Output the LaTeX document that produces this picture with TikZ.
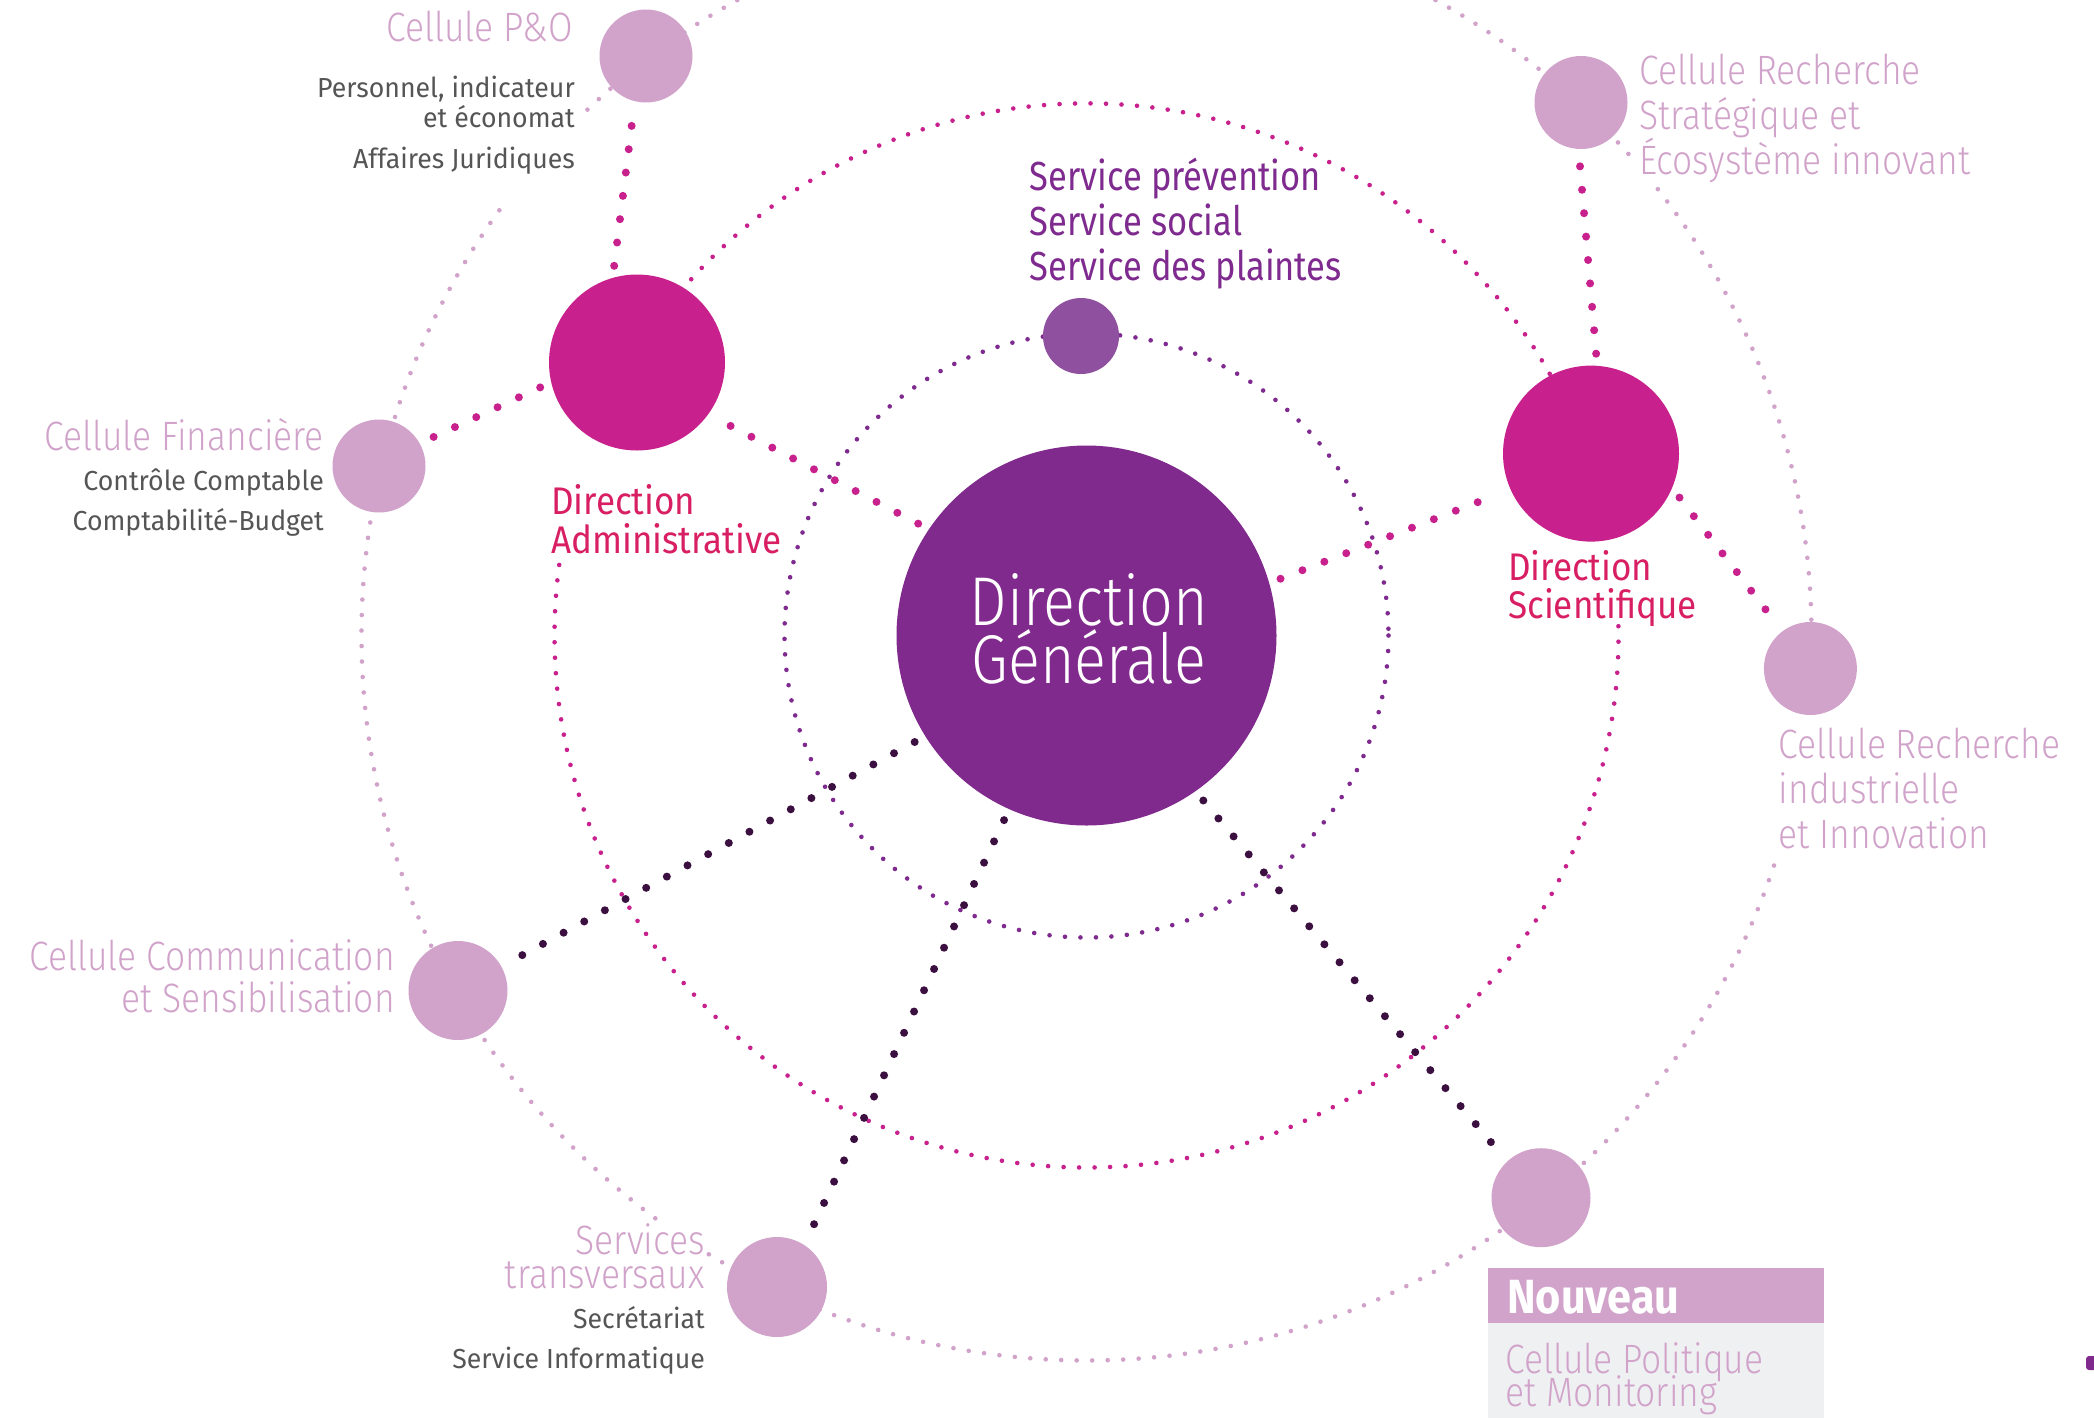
\documentclass[tikz,border=0pt]{standalone}
\usepackage{fontspec}
\setmainfont{Fira Sans}
\newfontfamily\flight{Fira Sans Light}[FakeStretch=0.865]
\newfontfamily\fdg{Fira Sans Light}[FakeStretch=0.86]
\newfontfamily\freg{Fira Sans}[FakeStretch=0.91]
\newfontfamily\fsvc{Fira Sans}[FakeStretch=0.85]
\newfontfamily\fgray{Fira Sans}[FakeStretch=0.97]
\newfontfamily\fbold{Fira Sans}[FakeStretch=0.9]
\definecolor{lpink}{HTML}{D1A3CA}
\definecolor{dmag}{HTML}{C8208C}
\definecolor{dgpurple}{HTML}{812A8D}
\definecolor{svcpurple}{HTML}{8E509F}
\definecolor{ringpurple}{HTML}{7F2A8E}
\definecolor{darkdot}{HTML}{3B0F40}
\definecolor{crimson}{HTML}{D81F63}
\definecolor{txtpurple}{HTML}{7E2A8F}
\definecolor{graytxt}{HTML}{555555}
\definecolor{boxgray}{HTML}{EFF0F2}
\newcommand\LblR[2]{\vtop{\baselineskip=#1pt\lineskiplimit=-100pt\halign{\hfil##\cr#2\crcr}}}
\newcommand\LblL[2]{\vtop{\baselineskip=#1pt\lineskiplimit=-100pt\halign{##\hfil\cr#2\crcr}}}
\newcommand\LblC[2]{\vtop{\baselineskip=#1pt\lineskiplimit=-100pt\halign{\hfil##\hfil\cr#2\crcr}}}
\tikzset{
  orbit/.style={line width=4.6pt, line cap=round, dash pattern=on 0pt off 15.5pt},
  link/.style={line width=8pt, line cap=round, dash pattern=on 0pt off 23.5pt, shorten <=12pt, shorten >=12pt},
  bubble/.style={circle, inner sep=0pt, draw=none},
  pinklbl/.style={inner sep=0pt, text=lpink, font=\flight\fontsize{41}{45}\selectfont},
  graylbl/.style={inner sep=0pt, text=graytxt, font=\fgray\fontsize{27.5}{30}\selectfont},
  dirlbl/.style={inner sep=0pt, text=crimson, font=\freg\fontsize{38.5}{39}\selectfont},
}
\begin{document}
\begin{tikzpicture}[x=1pt,y=-1pt]
\fill[white] (0,0) rectangle (2094,1417);
\useasboundingbox (0,0) rectangle (2094,1417);
\coordinate (c) at (1086.5,635.5);
% orbits
\draw[orbit, ringpurple] (c) circle[radius=302];
\draw[orbit, dmag] (c) ++(-1:532) arc[start angle=-1, end angle=189, radius=532];
\draw[orbit, dmag] (c) ++(202:532) arc[start angle=202, end angle=350, radius=532];
\draw[orbit, lpink] (c) ++(-38:725) arc[start angle=-38, end angle=6, radius=725];
\draw[orbit, lpink] (c) ++(18.5:725) arc[start angle=18.5, end angle=121.5, radius=725];
\draw[orbit, lpink] (c) ++(126.5:725) arc[start angle=126.5, end angle=216.5, radius=725];
\draw[orbit, lpink] (c) ++(226.5:725) arc[start angle=226.5, end angle=318.5, radius=725];
% nodes
\node[bubble, fill=dgpurple, minimum size=380pt] (dg) at (1086.5,635.5) {};
\node[bubble, fill=dmag, minimum size=176pt] (da) at (637,362.5) {};
\node[bubble, fill=dmag, minimum size=176pt] (ds) at (1591,453.6) {};
\node[bubble, fill=svcpurple, minimum size=76pt] (svc) at (1081,336) {};
\node[bubble, fill=lpink, minimum size=93pt] (pno) at (646,56) {};
\node[bubble, fill=lpink, minimum size=93pt] (fin) at (379,466) {};
\node[bubble, fill=lpink, minimum size=99pt] (comm) at (458,990.5) {};
\node[bubble, fill=lpink, minimum size=100pt] (st) at (777,1287) {};
\node[bubble, fill=lpink, minimum size=99pt] (poli) at (1541,1197.7) {};
\node[bubble, fill=lpink, minimum size=93pt] (rs) at (1581,102.5) {};
\node[bubble, fill=lpink, minimum size=93pt] (ri) at (1810.4,668.5) {};
% connectors
\draw[link, dmag] (dg.146.4) -- (da.-36.8);
\draw[link, dmag] (da.106.2) -- (pno.-104.5);
\draw[link, dmag] (da.-167.3) -- (fin.29.3);
\draw[link, dmag] (dg.16) -- (ds.-156.8);
\draw[link, dmag] (ds.86.4) -- (rs.-93);
\draw[link, dmag] (ds.-23.6) -- (ri.127);
\draw[link, darkdot] (dg.-148.1) -- (comm.29.2);
\draw[link, darkdot] (dg.-114) -- (st.57.9);
\draw[link, darkdot] (dg.-55.2) -- (poli.133.7);
% labels
\node[inner sep=0pt, anchor=base, text=white, font=\fdg\fontsize{69}{58}\selectfont] (dgtxt) at (1089,625.5) {\LblC{58}{Direction\cr Générale\cr}};
\node[pinklbl, anchor=base east] (pnol) at (573,41) {Cellule P\&O};
\node[graylbl, anchor=base east] (pnos) at (575,97) {\LblR{30.6}{Personnel, indicateur\cr et économat\cr\noalign{\vskip 10.4pt}Affaires Juridiques\cr}};
\node[pinklbl, anchor=base east] (finl) at (324,450.6) {Cellule Financière};
\node[graylbl, anchor=base east] (fins) at (324,490) {\LblR{40}{Contrôle Comptable\cr Comptabilité-Budget\cr}};
\node[dirlbl, anchor=base west] (dal) at (551,514) {\LblL{39}{Direction\cr Administrative\cr}};
\node[inner sep=0pt, anchor=base west, text=txtpurple, font=\fsvc\fontsize{40.6}{45}\selectfont] (svcl) at (1029.5,190) {\LblL{45}{Service prévention\cr Service social\cr Service des plaintes\cr}};
\node[pinklbl, anchor=base west] (rsl) at (1639,84.5) {\LblL{45}{Cellule Recherche\cr Stratégique et\cr Écosystème innovant\cr}};
\node[dirlbl, anchor=base west] (dsl) at (1508,580) {\LblL{38.5}{Direction\cr Scientifique\cr}};
\node[pinklbl, anchor=base west] (ril) at (1778.5,758) {\LblL{45}{Cellule Recherche\cr industrielle\cr et Innovation\cr}};
\node[pinklbl, anchor=base east] (comml) at (395,970) {\LblR{42.5}{Cellule Communication\cr et Sensibilisation\cr}};
\node[pinklbl, anchor=base east] (stl) at (705,1254) {\LblR{34}{Services\cr transversaux\cr}};
\node[graylbl, anchor=base east] (sts) at (705,1328) {\LblR{40}{Secrétariat\cr Service Informatique\cr}};
% Nouveau box
\fill[lpink] (1488,1268) rectangle (1824,1323);
\fill[boxgray] (1488,1323) rectangle (1824,1420);
\node[inner sep=0pt, anchor=base west, text=white, font=\fbold\bfseries\fontsize{48}{50}\selectfont] (nouv) at (1507,1313) {Nouveau};
\node[pinklbl, anchor=base west] (polil) at (1505,1373) {\LblL{33}{Cellule Politique\cr et Monitoring\cr}};
% corner mark
\fill[dgpurple, rounded corners=3pt] (2086,1356) rectangle (2104,1370);
\end{tikzpicture}
\end{document}
